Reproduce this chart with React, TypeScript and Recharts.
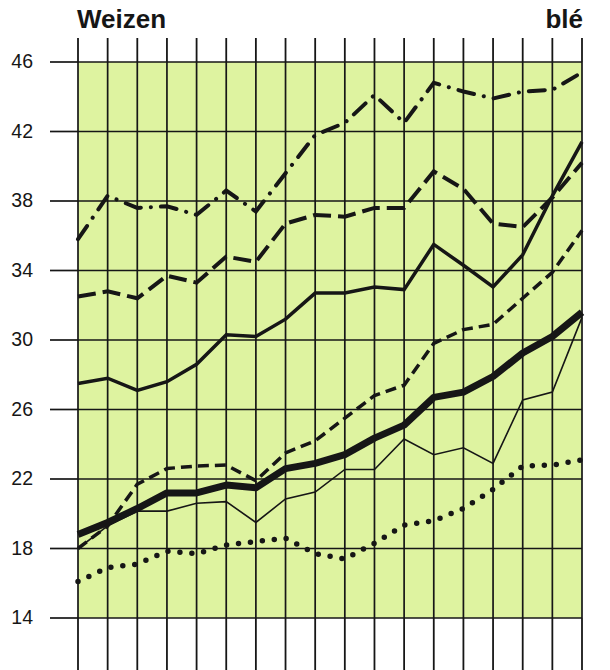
import { LineChart, Line, XAxis, YAxis, CartesianGrid } from "recharts";

const periods = ["1", "2", "3", "4", "5", "6", "7", "8", "9", "10", "11", "12", "13", "14", "15", "16", "17", "18"];
const yTicks = [14, 18, 22, 26, 30, 34, 38, 42, 46];

// values, top curve to bottom curve
const dashDot = [35.8, 38.3, 37.6, 37.7, 37.2, 38.6, 37.4, 39.6, 41.8, 42.5, 44.1, 42.5, 44.8, 44.3, 43.9, 44.3, 44.4, 45.4];
const longDash = [32.5, 32.8, 32.4, 33.7, 33.3, 34.8, 34.5, 36.7, 37.2, 37.1, 37.6, 37.6, 39.7, 38.7, 36.7, 36.5, 38.2, 40.2];
const solidMid = [27.5, 27.8, 27.1, 27.6, 28.6, 30.3, 30.2, 31.2, 32.7, 32.7, 33.05, 32.9, 35.5, 34.3, 33.05, 34.9, 38.3, 41.4];
const shortDash = [18.0, 19.3, 21.7, 22.6, 22.75, 22.8, 21.9, 23.5, 24.2, 25.5, 26.8, 27.4, 29.8, 30.6, 30.9, 32.4, 33.9, 36.3];
const thick = [18.8, 19.5, 20.3, 21.2, 21.2, 21.65, 21.5, 22.6, 22.9, 23.4, 24.35, 25.1, 26.7, 27.0, 27.9, 29.25, 30.2, 31.6];
const thin = [18.0, 19.3, 20.15, 20.15, 20.6, 20.7, 19.5, 20.85, 21.25, 22.55, 22.55, 24.3, 23.4, 23.8, 22.9, 26.55, 27.0, 31.3];
const dotted = [16.1, 16.9, 17.1, 17.85, 17.7, 18.2, 18.4, 18.6, 17.7, 17.4, 18.3, 19.35, 19.6, 20.3, 21.4, 22.75, 22.8, 23.1];

const data = periods.map((p, i) => ({
  p,
  dashDot: dashDot[i],
  longDash: longDash[i],
  solidMid: solidMid[i],
  shortDash: shortDash[i],
  thick: thick[i],
  thin: thin[i],
  dotted: dotted[i],
}));

const ink = "#161616";
const font = "'Liberation Sans', Arial, sans-serif";

function YTick({ y, payload }: any) {
  return (
    <text x={33} y={y} dy={6} textAnchor="end" fontSize={19.5} fill={ink} fontFamily={font}>
      {payload.value}
    </text>
  );
}

const noTick = () => <g />;

export default function App() {
  return (
    <div style={{ position: "fixed", left: 0, top: 0, width: 610, height: 670, background: "#fff" }}>
      <LineChart width={610} height={670} data={data} margin={{ top: 38, right: 0, bottom: 0, left: 0 }}>
        <CartesianGrid
          xAxisId="b"
          yAxisId="l"
          fill="#def3a0"
          fillOpacity={1}
          stroke={ink}
          strokeWidth={1.7}
        />
        <XAxis
          xAxisId="t"
          orientation="top"
          dataKey="p"
          scale="point"
          padding={{ left: 0, right: 0 }}
          height={24}
          tickSize={24}
          interval={0}
          tick={noTick}
          axisLine={false}
          tickLine={{ stroke: ink, strokeWidth: 1.8 }}
        />
        <XAxis
          xAxisId="b"
          dataKey="p"
          scale="point"
          padding={{ left: 0, right: 0 }}
          height={52}
          tickSize={52}
          interval={0}
          tick={noTick}
          axisLine={false}
          tickLine={{ stroke: ink, strokeWidth: 1.8 }}
        />
        <YAxis
          yAxisId="l"
          domain={[14, 46]}
          ticks={yTicks}
          width={78}
          tickSize={28}
          tick={<YTick />}
          axisLine={false}
          tickLine={{ stroke: ink, strokeWidth: 1.7 }}
        />
        <YAxis
          yAxisId="r"
          orientation="right"
          domain={[14, 46]}
          ticks={yTicks}
          width={28}
          tickSize={28}
          tick={noTick}
          axisLine={false}
          tickLine={{ stroke: ink, strokeWidth: 1.7 }}
        />
        <Line xAxisId="b" yAxisId="l" type="linear" dataKey="dotted" stroke={ink} strokeWidth={5.5} strokeDasharray="0 12" strokeLinecap="round" dot={false} isAnimationActive={false} />
        <Line xAxisId="b" yAxisId="l" type="linear" dataKey="thin" stroke={ink} strokeWidth={1.6} dot={false} isAnimationActive={false} />
        <Line xAxisId="b" yAxisId="l" type="linear" dataKey="shortDash" stroke={ink} strokeWidth={3.5} strokeDasharray="11 6" dot={false} isAnimationActive={false} />
        <Line xAxisId="b" yAxisId="l" type="linear" dataKey="thick" stroke={ink} strokeWidth={7} strokeLinejoin="round" dot={false} isAnimationActive={false} />
        <Line xAxisId="b" yAxisId="l" type="linear" dataKey="solidMid" stroke={ink} strokeWidth={3.5} dot={false} isAnimationActive={false} />
        <Line xAxisId="b" yAxisId="l" type="linear" dataKey="longDash" stroke={ink} strokeWidth={4} strokeDasharray="18 7" dot={false} isAnimationActive={false} />
        <Line xAxisId="b" yAxisId="l" type="linear" dataKey="dashDot" stroke={ink} strokeWidth={4} strokeDasharray="16 10 0.1 10" strokeLinecap="round" dot={false} isAnimationActive={false} />
      </LineChart>
      <svg width={610} height={40} style={{ position: "absolute", left: 0, top: 0, pointerEvents: "none" }}>
        <text x={77} y={28} fontSize={26} fontWeight={700} fill={ink} fontFamily={font}>
          Weizen
        </text>
        <text x={583} y={28} fontSize={26} fontWeight={700} fill={ink} fontFamily={font} textAnchor="end">
          blé
        </text>
      </svg>
    </div>
  );
}
